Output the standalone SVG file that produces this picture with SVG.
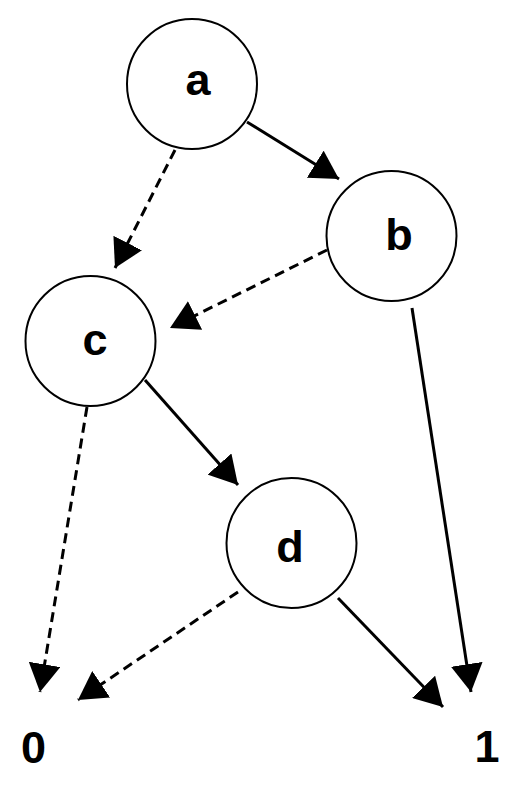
<svg xmlns="http://www.w3.org/2000/svg" width="508" height="788" viewBox="0 0 508 788">
  <style>
    .node circle { fill: #ffffff; stroke: #000000; stroke-width: 2; }
    .lbl { font-family: "Liberation Sans", Arial, sans-serif; font-weight: bold; font-size: 45px; fill: #000000; text-anchor: middle; }
    .edge { fill: none; stroke: #000000; stroke-width: 3; }
    .dashed { stroke-dasharray: 10 6; }
  </style>
  <defs>
    <marker id="arrow" viewBox="0 0 28 32" refX="28" refY="16" markerWidth="28" markerHeight="32" markerUnits="userSpaceOnUse" orient="auto">
      <path d="M0,0 L28,16 L0,32 Z" fill="#000000"/>
    </marker>
  </defs>
  <rect width="508" height="788" fill="#ffffff"/>
  <g id="connectors">
    <line class="edge" x1="247" y1="122" x2="339" y2="179" marker-end="url(#arrow)"/>
    <line class="edge dashed" x1="175" y1="150" x2="115" y2="268" marker-end="url(#arrow)"/>
    <line class="edge dashed" x1="327" y1="250" x2="170" y2="328" marker-end="url(#arrow)"/>
    <line class="edge" x1="412" y1="308" x2="471" y2="692" marker-end="url(#arrow)"/>
    <line class="edge" x1="145" y1="380" x2="238" y2="485" marker-end="url(#arrow)"/>
    <line class="edge dashed" x1="87" y1="407" x2="40" y2="692" marker-end="url(#arrow)"/>
    <line class="edge dashed" x1="238" y1="592" x2="78" y2="700" marker-end="url(#arrow)"/>
    <line class="edge" x1="338" y1="598" x2="443" y2="707" marker-end="url(#arrow)"/>
  </g>
  <g id="node-a" class="node">
    <circle cx="192" cy="84" r="65"/>
    <text class="lbl" x="198" y="95">a</text>
  </g>
  <g id="node-b" class="node">
    <circle cx="391.5" cy="236" r="65"/>
    <text class="lbl" x="399" y="250">b</text>
  </g>
  <g id="node-c" class="node">
    <circle cx="90.5" cy="341" r="65"/>
    <text class="lbl" x="95" y="355">c</text>
  </g>
  <g id="node-d" class="node">
    <circle cx="291.5" cy="543" r="65"/>
    <text class="lbl" x="290" y="562">d</text>
  </g>
  <g id="terminal-0">
    <text class="lbl" x="33.5" y="763">0</text>
  </g>
  <g id="terminal-1">
    <text class="lbl" x="487" y="762">1</text>
  </g>
</svg>
